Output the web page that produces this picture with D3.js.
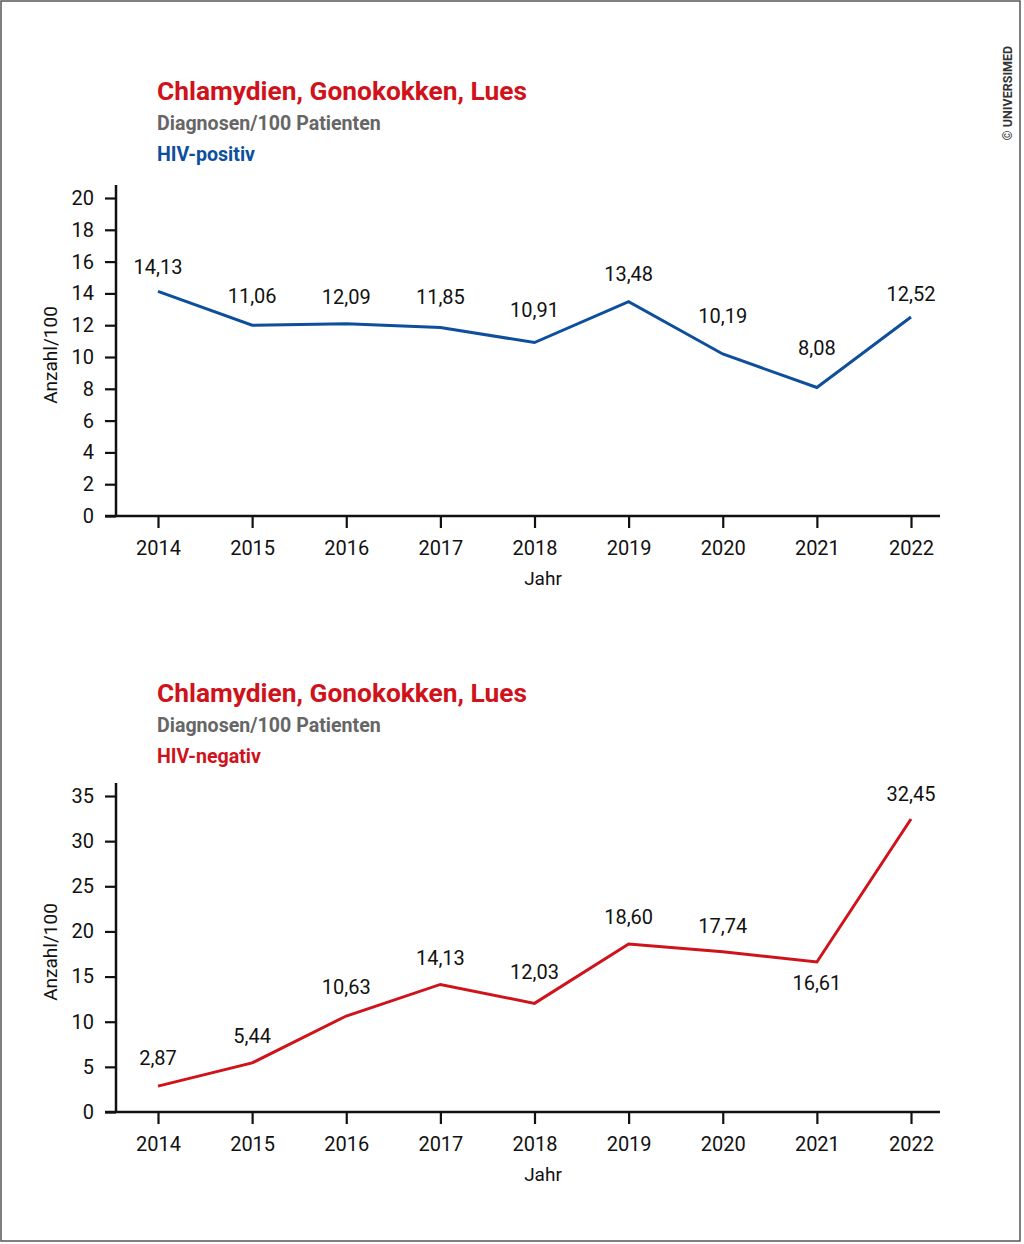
<!DOCTYPE html>
<html lang="de">
<head>
  <meta charset="UTF-8" />
  <title>Chlamydien, Gonokokken, Lues</title>
  <style>
    body { margin: 0; background: #fff; }
    svg text { font-family: Roboto, sans-serif; }
  </style>
</head>
<body>
  <div id="chart"></div>

  <script src="https://d3js.org/d3.v7.min.js"></script>
  <script>
    // data
    const years = [2014, 2015, 2016, 2017, 2018, 2019, 2020, 2021, 2022];

    const hivPosValues = [14.13, 12.0, 12.09, 11.85, 10.91, 13.48, 10.19, 8.08, 12.52];
    const hivPosLabels = ["14,13", "11,06", "12,09", "11,85", "10,91", "13,48", "10,19", "8,08", "12,52"];
    const hivPosTicks = [0, 2, 4, 6, 8, 10, 12, 14, 16, 18, 20];

    const hivNegValues = [2.87, 5.44, 10.63, 14.13, 12.03, 18.60, 17.74, 16.61, 32.45];
    const hivNegLabels = ["2,87", "5,44", "10,63", "14,13", "12,03", "18,60", "17,74", "16,61", "32,45"];
    const hivNegTicks = [0, 5, 10, 15, 20, 25, 30, 35];

    // label placement (px, relative to the point)
    const hivPosLabelDy = [-24, -29, -27, -31, -33, -28, -38, -40, -23];
    const hivNegLabelDy = [-28, -27, -29, -26, -31, -27, -26, 21, -25];

    const red = "#d0121b", blue = "#0d4f9c", grey = "#666";

    const svg = d3.select("#chart")
      .append("svg")
        .attr("width", 1024)
        .attr("height", 1244);

    svg.append("rect")
      .attr("x", 1).attr("y", 1)
      .attr("width", 1019).attr("height", 1240)
      .attr("fill", "none")
      .attr("stroke", "#555")
      .attr("stroke-width", 1.5);

    svg.append("text")
      .attr("transform", "translate(1012,93) rotate(-90)")
      .attr("text-anchor", "middle")
      .attr("font-size", 12.5)
      .attr("font-weight", "bold")
      .attr("fill", "#333")
      .text("© UNIVERSIMED");

    function panel(opt) {
      const g = svg.append("g");

      // headings
      g.append("text").attr("x", 157).attr("y", opt.top + 19)
        .attr("font-size", 26.3).attr("font-weight", "bold").attr("fill", red)
        .text("Chlamydien, Gonokokken, Lues");
      g.append("text").attr("x", 157).attr("y", opt.top + 49)
        .attr("font-size", 19.6).attr("font-weight", "bold").attr("fill", grey)
        .text("Diagnosen/100 Patienten");
      g.append("text").attr("x", 157).attr("y", opt.top + 80)
        .attr("font-size", 19.6).attr("font-weight", "bold").attr("fill", opt.color)
        .text(opt.group);

      const x = d3.scalePoint()
        .domain(years)
        .range([158, 911]);

      const y = d3.scaleLinear()
        .domain([0, d3.max(opt.ticks)])
        .range([opt.y0, opt.y1]);

      // y axis
      const ya = g.append("g")
        .attr("transform", "translate(116,0)")
        .call(d3.axisLeft(y).tickValues(opt.ticks).tickSize(11).tickPadding(11));
      ya.select(".domain").remove();
      ya.selectAll("line").attr("stroke", "#111").attr("stroke-width", 2.2);
      ya.selectAll("text").attr("font-size", 20).attr("fill", "#111")
        .style("font-family", "Roboto, sans-serif");
      g.append("line")
        .attr("x1", 116).attr("x2", 116)
        .attr("y1", opt.y1 - 13).attr("y2", opt.y0 + 1)
        .attr("stroke", "#111").attr("stroke-width", 2.5);

      // x axis
      const xa = g.append("g")
        .attr("transform", `translate(0,${opt.y0})`)
        .call(d3.axisBottom(x).tickSize(12).tickPadding(13));
      xa.select(".domain").remove();
      xa.selectAll("line").attr("stroke", "#111").attr("stroke-width", 2.2);
      xa.selectAll("text").attr("font-size", 20).attr("fill", "#111")
        .style("font-family", "Roboto, sans-serif");
      g.append("line")
        .attr("x1", 105).attr("x2", 940)
        .attr("y1", opt.y0).attr("y2", opt.y0)
        .attr("stroke", "#111").attr("stroke-width", 2.5);

      g.append("text")
        .attr("x", 543).attr("y", opt.y0 + 69)
        .attr("text-anchor", "middle")
        .attr("font-size", 19).attr("fill", "#111")
        .text("Jahr");

      g.append("text")
        .attr("transform", `translate(57,${(opt.y0 + opt.y1) / 2 - 2}) rotate(-90)`)
        .attr("text-anchor", "middle")
        .attr("font-size", 19).attr("fill", "#111")
        .text("Anzahl/100");

      const pts = years.map((d, i) => ({ year: d, value: opt.values[i], label: opt.labels[i], dy: opt.dy[i] }));

      g.append("path")
        .datum(pts)
        .attr("fill", "none")
        .attr("stroke", opt.color)
        .attr("stroke-width", 3)
        .attr("stroke-linejoin", "miter")
        .attr("d", d3.line().x(d => x(d.year)).y(d => y(d.value)));

      g.selectAll(".lbl")
        .data(pts)
        .enter()
        .append("text")
          .attr("class", "lbl")
          .attr("x", d => x(d.year))
          .attr("y", d => y(d.value) + d.dy)
          .attr("dy", "0.35em")
          .attr("text-anchor", "middle")
          .attr("font-size", 20)
          .attr("fill", "#111")
          .text(d => d.label);
    }

    panel({
      top: 81, group: "HIV-positiv", color: blue,
      values: hivPosValues, labels: hivPosLabels, dy: hivPosLabelDy,
      ticks: hivPosTicks, y0: 516, y1: 198
    });

    panel({
      top: 683, group: "HIV-negativ", color: red,
      values: hivNegValues, labels: hivNegLabels, dy: hivNegLabelDy,
      ticks: hivNegTicks, y0: 1112, y1: 796
    });
  </script>
</body>
</html>
